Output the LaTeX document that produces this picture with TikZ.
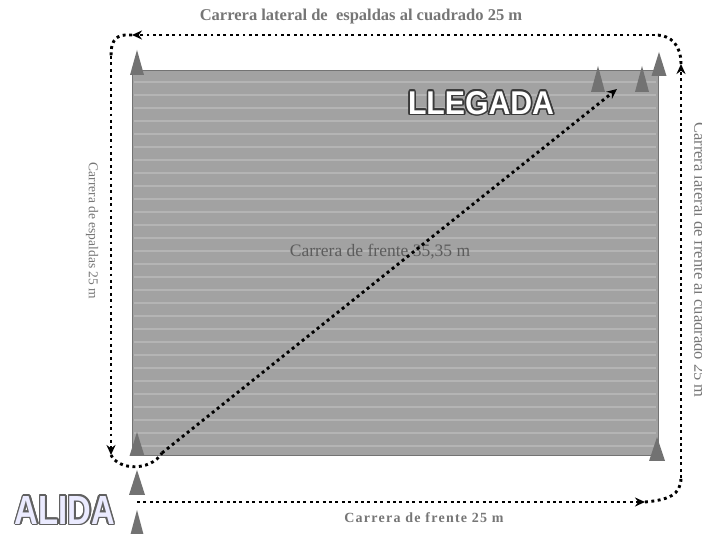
\documentclass[tikz,border=0pt]{standalone}
\usepackage{fontspec}
\setmainfont{Liberation Serif}
\newfontfamily\bigsans{Liberation Sans}
\usetikzlibrary{arrows.meta,calc}
\definecolor{field}{HTML}{A2A2A2}
\definecolor{stripe}{HTML}{B4B4B4}
\definecolor{conecol}{HTML}{727272}
\definecolor{lbl}{HTML}{767676}
\definecolor{midlbl}{HTML}{5C5C5C}
\definecolor{wordedge}{HTML}{3A3A3A}
\newcommand\llegadaword{\resizebox{146pt}{23pt}{\bigsans\bfseries LLEGADA}}
\newcommand\alidaword{\resizebox{100pt}{28pt}{\bigsans\bfseries ALIDA}}
\newcommand\conemark[4]{\fill[conecol] (#1,#2) -- ({#1+#4},#3) -- ({#1-#4},#3) -- cycle;}
\tikzset{
 run/.style={line width=2.9pt, dash pattern=on 2.9pt off 3.5pt, black},
 runarrow/.style={run, -{Stealth[length=10pt,width=9pt]}},
 lab/.style={text=lbl, font=\bfseries\fontsize{16.5}{16.5}\selectfont, inner sep=0pt},
 side/.style={text=lbl, font=\fontsize{13.5}{13.5}\selectfont, inner sep=0pt, rotate=-90},
 word/.style={inner sep=0pt},
}
\begin{document}
\begin{tikzpicture}[x=1pt,y=-1pt]
\useasboundingbox (0,0) rectangle (702,534);
\fill[white] (0,0) rectangle (702,534);
% field
\node[fill=field, draw=black!55, line width=0.8pt, minimum width=526pt, minimum height=385pt, anchor=north west, inner sep=0pt] (field) at (132,70) {};
\foreach \yy in {82,95,...,450} \draw[stripe, line width=1.2pt] (134,\yy) -- (656,\yy);
% cones
\conemark{137}{50}{75}{7}
\conemark{659}{52}{76}{7.5}
\conemark{598}{66}{92}{7}
\conemark{642}{66}{92}{7}
\conemark{137}{432}{456}{7.5}
\conemark{137}{470}{495}{8}
\conemark{137}{510}{540}{8}
\conemark{657}{437}{461}{8}
% labels
\node[lab] (toplab) at (361,17) {Carrera lateral de\ \ espaldas al cuadrado 25 m};
\node[lab, font=\bfseries\fontsize{14}{14}\selectfont\addfontfeature{LetterSpace=9}] (botlab) at (424,518) {Carrera de frente 25 m};
\node[side] (leftlab) at (92,231) {Carrera de espaldas 25 m};
\node[side, font=\fontsize{16.5}{16.5}\selectfont] (rightlab) at (700,260) {Carrera lateral de frente al cuadrado 25 m};
\node[text=midlbl, font=\fontsize{17.5}{17.5}\selectfont, inner sep=0pt] (midlab) at (380,252) {Carrera de frente 35,35 m};
% running path
\coordinate (s1) at (137,502);
\coordinate (b2) at (645,502);
\coordinate (r1) at (681,478);
\coordinate (r2) at (681,64);
\coordinate (t1) at (655,35);
\coordinate (t2) at (132,35);
\coordinate (l1) at (111,56);
\coordinate (l2) at (111,455);
\coordinate (d1) at (162,453);
\coordinate (fin) at (617,89);
\draw[runarrow] (s1) -- (b2);
\draw[run] (b2) .. controls (668,500) and (681,495) .. (r1);
\draw[runarrow] (r1) -- (r2);
\draw[run] (r2) .. controls (681,46) and (672,35) .. (t1);
\draw[runarrow] (t1) -- (t2);
\draw[run] (t2) -- (125,35) .. controls (114,36) and (111,43) .. (l1);
\draw[runarrow] (l1) -- (l2);
\draw[run] (l2) .. controls (118,470) and (150,472) .. (d1);
\draw[runarrow] (d1) -- (fin);
% outlined words
\foreach \a [count=\i] in {0,30,...,330}
  \node[word, text=wordedge] (lle\i) at ($(481,103)+(\a:1.6)$) {\llegadaword};
\node[word, text=white] (llegada) at (481,103) {\llegadaword};
\foreach \a [count=\i] in {0,30,...,330}
  \node[word, text=wordedge!80] (ali\i) at ($(65,510)+(\a:1.6)$) {\alidaword};
\node[word, text=white!92!blue] (alida) at (65,510) {\alidaword};
\end{tikzpicture}
\end{document}
